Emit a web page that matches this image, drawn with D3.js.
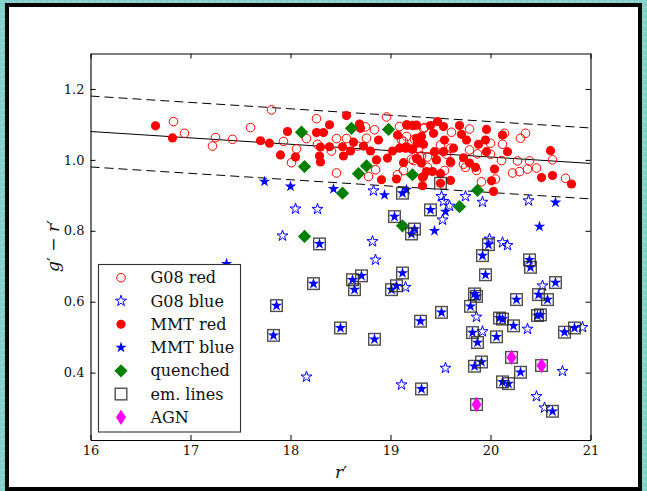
<!DOCTYPE html>
<html>
<head>
<meta charset="utf-8">
<script src="https://cdn.jsdelivr.net/npm/d3@7"></script>
<style>
  html, body { margin: 0; padding: 0; background: #86cfca; }
  svg { display: block; }
</style>
</head>
<body>
<svg id="chart" width="647" height="491"></svg>
<script>
// ---- data: r' magnitude and g'-r' colour ----
const g08Red = [
  [16.83,1.108],[16.94,1.075],[17.25,1.063],[17.22,1.039],[17.42,1.058],[17.81,1.141],[17.60,1.091],
  [18.26,1.116],[17.93,1.052],[18.06,1.031],[18.01,0.992],[18.16,1.060],[18.27,1.044],[18.46,1.060],
  [18.56,1.060],[18.41,1.025],[18.46,0.963],[18.75,1.093],[18.84,1.085],[18.76,1.061],[18.67,1.039],
  [18.85,0.972],[18.78,0.953],[18.96,1.121],[19.09,1.094],[19.16,1.066],[19.11,1.056],[19.22,1.097],
  [19.33,1.089],[19.21,1.002],[19.31,1.011],[19.07,0.958],[19.13,0.970],[19.28,1.032],[19.37,0.979],
  [19.17,1.098],[19.34,1.091],[19.79,1.087],[19.61,1.078],[20.14,1.075],[20.35,1.075],[20.30,1.061],
  [19.60,1.033],[19.50,1.042],[19.24,1.058],[19.13,1.052],[19.29,1.009],[19.37,1.008],[19.23,0.998],
  [19.56,1.016],[19.79,1.028],[19.87,1.017],[20.00,1.047],[20.00,1.016],[20.12,1.044],[20.11,0.998],
  [20.27,0.997],[20.39,0.997],[20.62,1.000],[20.46,0.977],[20.37,0.974],[20.29,0.967],[20.22,0.963],
  [20.05,0.946],[19.91,0.938],[20.75,0.948],[19.75,0.979],[19.86,0.970],[19.54,0.970],[19.60,0.992],
  [19.73,0.988]
];
const g08Blue = [
  [18.05,0.862],[18.27,0.861],[17.92,0.786],[18.83,0.913],[18.82,0.770],[18.85,0.718],[19.15,0.641],
  [19.51,0.897],[19.53,0.883],[19.59,0.870],[19.52,0.831],[19.75,0.897],[19.92,0.881],[20.38,0.885],
  [19.99,0.777],[20.12,0.767],[20.17,0.759],[20.52,0.645],[19.86,0.557],[20.37,0.523],[19.92,0.516],
  [20.92,0.528],[19.55,0.413],[20.72,0.404],[20.46,0.333],[20.54,0.301],[19.11,0.366],[18.16,0.388]
];
const mmtRed = [
  [16.65,1.096],[16.82,1.062],[17.70,1.054],[17.79,1.047],[17.97,1.080],[17.90,1.014],[18.05,1.008],
  [18.26,1.077],[18.33,1.077],[18.30,1.036],[18.39,1.037],[18.29,1.011],[18.30,0.994],[18.39,1.099],
  [18.56,1.125],[18.52,1.037],[18.60,1.025],[18.53,1.011],[18.63,1.050],[18.69,1.101],[18.70,1.089],
  [18.73,1.039],[18.80,1.025],[18.88,1.056],[18.86,1.000],[18.97,1.005],[19.02,1.025],[19.07,1.070],
  [19.09,1.033],[19.16,1.037],[19.22,1.030],[19.27,1.047],[19.31,1.066],[19.16,1.099],[19.26,1.098],
  [19.13,0.992],[19.26,1.004],[19.31,0.991],[18.91,0.944],[19.06,0.946],[19.32,0.951],[19.32,0.927],
  [19.36,0.967],[19.23,1.097],[19.40,1.097],[19.47,1.108],[19.53,1.094],[19.69,1.097],[19.96,1.086],
  [19.43,1.075],[19.54,1.056],[19.71,1.072],[19.76,1.056],[19.26,1.061],[19.33,1.044],[19.22,1.031],
  [19.15,1.033],[19.44,1.023],[19.53,1.023],[19.63,1.033],[19.88,1.044],[19.95,1.056],[19.96,1.023],
  [20.12,1.070],[20.17,1.023],[20.60,1.026],[19.27,1.003],[19.46,1.000],[19.60,0.995],[19.73,1.006],
  [19.79,0.991],[19.85,0.979],[19.42,0.967],[19.50,0.961],[19.33,0.953],[19.60,0.942],[20.04,0.974],
  [20.01,0.941],[20.03,0.911],[20.51,0.950],[20.62,0.956],[20.81,0.932],[19.50,0.934]
];
const mmtBlue = [
  [17.74,0.939],[18.00,0.925],[18.43,0.918],[18.94,0.901],[19.16,0.916],[19.55,0.854],[20.65,0.880],
  [19.44,0.800],[20.49,0.812],[17.36,0.707],
  [19.12,0.906],[19.04,0.840],[19.40,0.859],[19.24,0.805],[19.21,0.791],[18.29,0.763],[18.23,0.651],
  [17.86,0.589],[17.83,0.505],[18.50,0.526],[18.84,0.494],[18.62,0.662],[18.71,0.673],[18.64,0.634],
  [19.12,0.681],[19.06,0.645],[19.01,0.634],[19.98,0.761],[19.92,0.730],[20.39,0.718],[20.40,0.697],
  [19.95,0.676],[20.65,0.654],[19.84,0.622],[19.86,0.615],[20.48,0.620],[20.57,0.606],[20.26,0.606],
  [19.80,0.587],[19.51,0.570],[19.30,0.545],[20.09,0.554],[20.12,0.551],[20.23,0.532],[20.50,0.563],
  [20.47,0.561],[19.82,0.513],[19.87,0.485],[20.06,0.501],[20.74,0.514],[20.84,0.526],[19.84,0.418],
  [19.91,0.430],[19.31,0.354],[20.12,0.374],[20.18,0.369],[20.30,0.401],[20.62,0.291]
];
const quenched = [
  [18.11,1.078],[18.61,1.089],[18.98,1.086],[18.14,0.981],[18.76,0.983],[18.68,0.961],[19.22,0.958],
  [18.52,0.906],[19.87,0.914],[19.69,0.868],[18.14,0.784],[19.12,0.814]
];
const emLines = [
  [19.12,0.906],[19.04,0.840],[19.40,0.859],[19.24,0.805],[19.21,0.791],[18.29,0.763],[18.23,0.651],
  [17.86,0.589],[17.83,0.505],[18.50,0.526],[18.84,0.494],[18.62,0.662],[18.71,0.673],[18.64,0.634],
  [19.12,0.681],[19.06,0.645],[19.01,0.634],[19.98,0.761],[19.92,0.730],[20.39,0.718],[20.40,0.697],
  [19.95,0.676],[20.65,0.654],[19.84,0.622],[19.86,0.615],[20.48,0.620],[20.57,0.606],[20.26,0.606],
  [19.80,0.587],[19.51,0.570],[19.30,0.545],[20.09,0.554],[20.12,0.551],[20.23,0.532],[20.50,0.563],
  [20.47,0.561],[19.82,0.513],[19.87,0.485],[20.06,0.501],[20.74,0.514],[20.84,0.526],[19.84,0.418],
  [19.91,0.430],[19.31,0.354],[20.12,0.374],[20.18,0.369],[20.30,0.401],[20.62,0.291],[19.50,0.934],
  [20.21,0.443],[20.51,0.420],[19.86,0.310]
];
const agn = [[20.21,0.443],[20.51,0.420],[19.86,0.310]];

// red-sequence fit and its +/- 0.1 envelope
const fitEnds = [[16, 1.08], [21, 0.99]];
const fitOffsets = [0.1, -0.1];

const xTicks = [16, 17, 18, 19, 20, 21];
const yTicks = [0.4, 0.6, 0.8, 1.0, 1.2];
const legendLabels = ["G08 red", "G08 blue", "MMT red", "MMT blue", "quenched", "em. lines", "AGN"];

// ---- layout ----
const svg = d3.select("#chart");
const FONT = "DejaVu Serif, serif";
const x = d3.scaleLinear().domain([16, 21]).range([90.5, 590.5]);
const y = d3.scaleLinear().domain([0.21, 1.3]).range([440, 53.5]);

// background pattern and page frame
const defs = svg.append("defs");
const pat = defs.append("pattern").attr("id", "speckle").attr("width", 6).attr("height", 6)
  .attr("patternUnits", "userSpaceOnUse");
pat.append("rect").attr("width", 6).attr("height", 6).attr("fill", "#86cfca");
pat.append("rect").attr("x", 1).attr("y", 1).attr("width", 2).attr("height", 1).attr("fill", "#a5ddd9");
pat.append("rect").attr("x", 4).attr("y", 4).attr("width", 1).attr("height", 2).attr("fill", "#6fc2bd");
svg.append("rect").attr("width", 647).attr("height", 491).attr("fill", "url(#speckle)");
svg.append("rect").attr("x", 5).attr("y", 3).attr("width", 637).attr("height", 488).attr("fill", "#000");
svg.append("rect").attr("x", 9).attr("y", 7).attr("width", 629).attr("height", 480).attr("fill", "#fff");

defs.append("clipPath").attr("id", "plotclip").append("rect")
  .attr("x", 90.5).attr("y", 53.5).attr("width", 500).attr("height", 386.5);

// ---- marker shapes ----
function starPath(R) {
  const r = R * 0.381966, pts = [];
  for (let k = 0; k < 10; k++) {
    const a = -Math.PI / 2 + k * Math.PI / 5, rr = k % 2 ? r : R;
    pts.push([rr * Math.cos(a), rr * Math.sin(a)]);
  }
  return "M" + pts.map(p => p[0].toFixed(2) + "," + p[1].toFixed(2)).join("L") + "Z";
}
function diamondPath(w, h) { return `M0,${-h}L${w},0L0,${h}L${-w},0Z`; }

const styles = {
  "G08 red":   g => g.append("circle").attr("r", 4.3).attr("fill", "none").attr("stroke", "#ff0000").attr("stroke-width", 1),
  "G08 blue":  g => g.append("path").attr("d", starPath(5.8)).attr("fill", "none").attr("stroke", "#0000ff").attr("stroke-width", 1),
  "MMT red":   g => g.append("circle").attr("r", 4.6).attr("fill", "#ff0000"),
  "MMT blue":  g => g.append("path").attr("d", starPath(6)).attr("fill", "#0000ff"),
  "quenched":  g => g.append("path").attr("d", diamondPath(6.6, 6.6)).attr("fill", "#007f00"),
  "em. lines": g => g.append("rect").attr("x", -5.8).attr("y", -5.8).attr("width", 11.6).attr("height", 11.6)
                     .attr("fill", "none").attr("stroke", "#222").attr("stroke-opacity", 0.8).attr("stroke-width", 1.4),
  "AGN":       g => g.append("path").attr("d", diamondPath(5, 7.6)).attr("fill", "#ff00ff")
};

// ---- plot ----
const plot = svg.append("g").attr("clip-path", "url(#plotclip)");

const line = d3.line().x(d => x(d[0])).y(d => y(d[1]));
plot.append("path").attr("d", line(fitEnds)).attr("fill", "none").attr("stroke", "#000").attr("stroke-width", 1);
fitOffsets.forEach(o => {
  plot.append("path").attr("d", line(fitEnds.map(d => [d[0], d[1] + o])))
    .attr("fill", "none").attr("stroke", "#000").attr("stroke-width", 1).attr("stroke-dasharray", "9,5");
});

const seriesList = [
  ["G08 red", g08Red], ["G08 blue", g08Blue], ["MMT red", mmtRed], ["MMT blue", mmtBlue],
  ["quenched", quenched], ["em. lines", emLines], ["AGN", agn]
];
seriesList.forEach(([name, data]) => {
  const grp = plot.append("g");
  data.forEach(d => {
    const m = grp.append("g").attr("transform", `translate(${x(d[0])},${y(d[1])})`);
    styles[name](m);
  });
});

// ---- axes (ticks pointing inward on all four sides) ----
function styleAxis(g) {
  g.selectAll("path.domain").attr("stroke", "#000").attr("stroke-width", 1.1);
  g.selectAll(".tick line").attr("stroke", "#000").attr("stroke-width", 1);
  g.selectAll(".tick text").attr("font-family", FONT).attr("font-size", 13).attr("fill", "#111");
}
svg.append("g").attr("transform", "translate(0,440)")
  .call(d3.axisBottom(x).tickValues(xTicks).tickFormat(d3.format("d")).tickSize(-5).tickSizeOuter(0).tickPadding(6))
  .call(styleAxis);
svg.append("g").attr("transform", "translate(0,53.5)")
  .call(d3.axisTop(x).tickValues(xTicks).tickFormat("").tickSize(-5).tickSizeOuter(0))
  .call(styleAxis);
svg.append("g").attr("transform", "translate(90.5,0)")
  .call(d3.axisLeft(y).tickValues(yTicks).tickFormat(d3.format(".1f")).tickSize(-5).tickSizeOuter(0).tickPadding(6))
  .call(styleAxis);
svg.append("g").attr("transform", "translate(590.5,0)")
  .call(d3.axisRight(y).tickValues(yTicks).tickFormat("").tickSize(-5).tickSizeOuter(0))
  .call(styleAxis);

// axis titles
const xl = svg.append("text").attr("x", 341).attr("y", 478).attr("text-anchor", "middle")
  .attr("font-family", FONT).attr("font-size", 17).attr("fill", "#111");
xl.append("tspan").attr("font-style", "italic").text("r");
xl.append("tspan").text("′");

const yl = svg.append("text").attr("transform", "translate(59,246) rotate(-90)").attr("text-anchor", "middle")
  .attr("font-family", FONT).attr("font-size", 17).attr("fill", "#111");
yl.append("tspan").attr("font-style", "italic").text("g");
yl.append("tspan").text("′ − ");
yl.append("tspan").attr("font-style", "italic").text("r");
yl.append("tspan").text("′");

// ---- legend ----
const leg = svg.append("g");
leg.append("rect").attr("x", 98.5).attr("y", 264.5).attr("width", 142).attr("height", 167.5)
  .attr("fill", "#fff").attr("stroke", "#333").attr("stroke-width", 1.1);
legendLabels.forEach((name, i) => {
  const cy = 277.7 + i * 23.27;
  const m = leg.append("g").attr("transform", `translate(121,${cy})`);
  styles[name](m);
  leg.append("text").attr("x", 150.5).attr("y", cy + 5.6)
    .attr("font-family", FONT).attr("font-size", 16).attr("fill", "#111").text(name);
});
</script>
</body>
</html>
